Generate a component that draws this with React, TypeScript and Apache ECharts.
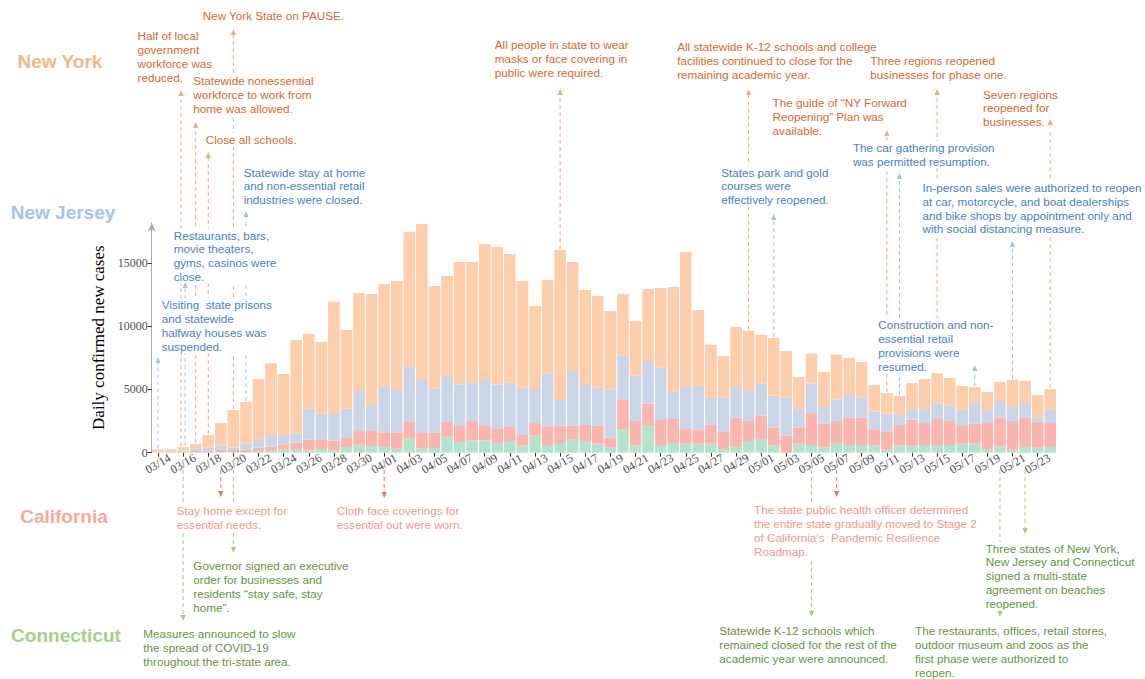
import React, { useEffect, useRef } from "react";
import * as echarts from "echarts";

const dates = [
  "03/14","03/15","03/16","03/17","03/18","03/19","03/20","03/21","03/22","03/23","03/24","03/25","03/26","03/27","03/28","03/29","03/30","03/31",
  "04/01","04/02","04/03","04/04","04/05","04/06","04/07","04/08","04/09","04/10","04/11","04/12","04/13","04/14","04/15","04/16","04/17","04/18","04/19","04/20",
  "04/21","04/22","04/23","04/24","04/25","04/26","04/27","04/28","04/29","04/30",
  "05/01","05/02","05/03","05/04","05/05","05/06","05/07","05/08","05/09","05/10","05/11","05/12","05/13","05/14","05/15","05/16","05/17","05/18","05/19","05/20",
  "05/21","05/22","05/23","05/24",
];

const connecticut = [
  0, 10, 10, 20, 20, 30, 40, 50,
  130, 145, 265, 280, 185, 300, 190, 450, 630, 525, 450, 315,
  1110, 345, 370, 1265, 845, 975, 975, 765, 925, 555, 1345, 605,
  765, 1080, 925, 710, 395, 1820, 555, 2135, 605, 765, 710, 710,
  710, 290, 450, 925, 1080, 555, 0, 710, 605, 395, 765, 605,
  605, 555, 235, 555, 555, 605, 605, 605, 710, 710, 290, 500,
  235, 450, 395, 450,
];

const california = [
  40, 40, 50, 110, 140, 180, 170, 210,
  280, 330, 405, 510, 845, 755, 770, 710, 1080, 1190, 1160, 1295,
  1315, 1210, 1240, 1160, 1265, 1530, 1135, 1160, 1105, 845, 1000, 1425,
  1370, 1055, 1265, 1425, 790, 2345, 1950, 1740, 1980, 1900, 1160, 1120,
  1480, 1345, 2320, 1580, 1845, 1425, 1345, 1265, 2530, 1900, 1740, 2160,
  2160, 1250, 1455, 1635, 2055, 1740, 2055, 1900, 1475, 1580, 2055, 2240,
  2270, 2295, 2055, 1895,
];

const newJersey = [
  30, 40, 100, 180, 240, 340, 190, 450,
  590, 925, 730, 730, 2440, 2045, 2180, 2320, 3245, 2055, 3610, 3350,
  4375, 4195, 3455, 3560, 3295, 3035, 3640, 3480, 3510, 3745, 2690, 4220,
  2110, 4325, 3165, 3005, 3800, 3510, 3585, 3375, 4140, 2160, 3325, 3460,
  2200, 2705, 2425, 2375, 2530, 2530, 3005, 1475, 2320, 1320, 1690, 1795,
  1610, 1450, 1395, 790, 765, 1105, 1215, 1215, 1215, 1635, 950, 1345,
  1110, 1185, 290, 1055,
];

const newYork = [
  190, 180, 280, 380, 1000, 1800, 2970, 3300,
  4830, 5680, 4825, 7390, 5930, 5655, 8790, 6220, 7675, 8780, 8120, 8620,
  10680, 12340, 8120, 7990, 9680, 9545, 10760, 10865, 10180, 8440, 6565, 7410,
  11785, 8625, 7515, 7250, 6220, 4880, 4325, 5695, 6305, 8280, 10680, 5995,
  4155, 3305, 4745, 4775, 3850, 4560, 3690, 2530, 2375, 2770, 3560, 2925,
  2795, 2110, 1635, 1505, 2135, 2375, 2745, 2190, 1870, 1265, 1505, 1530,
  2160, 1740, 1820, 1635,
];

const yTicks = [0, 5000, 10000, 15000];

const stateNames = ["New York", "New Jersey", "California", "Connecticut"];

type Ann = { state: string; date: string; text: string; tx: number; ty: number; tip: number; dx?: number };

const annotations: Ann[] = [
  { state: "New York", date: "03/16", dx: -2, text: "Half of local\ngovernment\nworkforce was\nreduced.", tx: 137.5, ty: 36, tip: 90 },
  { state: "New York", date: "03/17", text: "Statewide nonessential\nworkforce to work from\nhome was allowed.", tx: 193.3, ty: 81, tip: 122 },
  { state: "New York", date: "03/18", text: "Close all schools.", tx: 205.7, ty: 140, tip: 152 },
  { state: "New York", date: "03/20", text: "New York State on PAUSE.", tx: 202.7, ty: 16, tip: 29 },
  { state: "New York", date: "04/15", text: "All people in state to wear\nmasks or face covering in\npublic were required.", tx: 494.8, ty: 45, tip: 89 },
  { state: "New York", date: "04/30", text: "All statewide K-12 schools and college\nfacilities continued to close for the\nremaining academic year.", tx: 677.2, ty: 47, tip: 89 },
  { state: "New York", date: "05/11", text: "The guide of \u201cNY Forward\nReopening\u201d Plan was\navailable.", tx: 772.6, ty: 102.7, tip: 130 },
  { state: "New York", date: "05/15", text: "Three regions reopened\nbusinesses for phase one.", tx: 870.3, ty: 61, tip: 89 },
  { state: "New York", date: "05/24", text: "Seven regions\nreopened for\nbusinesses.", tx: 983, ty: 94.3, tip: 119 },
  { state: "New Jersey", date: "03/14", text: "Visiting  state prisons\nand statewide\nhalfway houses was\nsuspended.", tx: 161.7, ty: 305, tip: 357 },
  { state: "New Jersey", date: "03/16", dx: 2, text: "Restaurants, bars,\nmovie theaters,\ngyms, casinos were\nclose.", tx: 173.7, ty: 235.3, tip: 282 },
  { state: "New Jersey", date: "03/21", text: "Statewide stay at home\nand non-essential retail\nindustries were closed.", tx: 243.7, ty: 172.3, tip: 211 },
  { state: "New Jersey", date: "05/02", text: "States park and gold\ncourses were\neffectively reopened.", tx: 721.2, ty: 172.3, tip: 214 },
  { state: "New Jersey", date: "05/12", text: "The car gathering provision\nwas permitted resumption.", tx: 852.9, ty: 147.7, tip: 173 },
  { state: "New Jersey", date: "05/18", text: "Construction and non-\nessential retail\nprovisions were\nresumed.", tx: 878.3, ty: 325, tip: 365 },
  { state: "New Jersey", date: "05/21", text: "In-person sales were authorized to reopen\nat car, motorcycle, and boat dealerships\nand bike shops by appointment only and\nwith social distancing measure.", tx: 922.5, ty: 187.7, tip: 241 },
  { state: "California", date: "03/19", text: "Stay home except for\nessential needs.", tx: 176.7, ty: 511, tip: 497 },
  { state: "California", date: "04/01", text: "Cloth face coverings for\nessential out were worn.", tx: 336.7, ty: 511, tip: 498 },
  { state: "California", date: "05/07", text: "The state public health officer determined\nthe entire state gradually moved to Stage 2\nof California\u2019s  Pandemic Resilience\nRoadmap.", tx: 754, ty: 510, tip: 497 },
  { state: "Connecticut", date: "03/16", text: "Measures announced to slow\nthe spread of COVID-19\nthroughout the tri-state area.", tx: 143.3, ty: 634, tip: 621 },
  { state: "Connecticut", date: "03/20", text: "Governor signed an executive\norder for businesses and\nresidents \u201cstay safe, stay\nhome\u201d.", tx: 193.3, ty: 566, tip: 553 },
  { state: "Connecticut", date: "05/05", text: "Statewide K-12 schools which\nremained closed for the rest of the\nacademic year were announced.", tx: 719.3, ty: 631, tip: 617 },
  { state: "Connecticut", date: "05/20", text: "The restaurants, offices, retail stores,\noutdoor museum and zoos as the\nfirst phase were authorized to\nreopen.", tx: 915, ty: 631, tip: 617 },
  { state: "Connecticut", date: "05/22", text: "Three states of New York,\nNew Jersey and Connecticut\nsigned a multi-state\nagreement on beaches\nreopened.", tx: 985.7, ty: 548.3, tip: 534 },
];

const barColors: Record<string, string> = {
  "New York": "#FDCDAC",
  "New Jersey": "#CBD5E8",
  "California": "#FBB4AE",
  "Connecticut": "#B3E2CD",
};
const labelColors: Record<string, string> = {
  "New York": "#F8B488",
  "New Jersey": "#A6C4E6",
  "California": "#F9A89C",
  "Connecticut": "#A6CF8A",
};
const textColors: Record<string, string> = {
  "New York": "#D6692E",
  "New Jersey": "#4682C3",
  "California": "#F8968C",
  "Connecticut": "#5F963C",
};
const lineColors: Record<string, string> = {
  "New York": "#F4A67E",
  "New Jersey": "#9EC3E8",
  "California": "#F27064",
  "Connecticut": "#9FD080",
};
const stateLabelPos: Record<string, [number, number]> = {
  "New York": [60, 61],
  "New Jersey": [63, 212],
  "California": [64, 516],
  "Connecticut": [66, 635],
};

const SANS = '"Liberation Sans", Arial, sans-serif';
const SERIF = '"Liberation Serif", "Times New Roman", serif';

export default function App() {
  const ref = useRef<HTMLDivElement>(null);
  useEffect(() => {
    if (!ref.current) return;
    const chart = echarts.init(ref.current, null, { renderer: "svg" });
    const seriesData: Record<string, number[]> = {
      "Connecticut": connecticut,
      "California": california,
      "New Jersey": newJersey,
      "New York": newYork,
    };
    const order = ["Connecticut", "California", "New Jersey", "New York"];
    chart.setOption({
      animation: false,
      grid: { left: 151.7, right: 88.5, top: 222.6, bottom: 226.3 },
      xAxis: {
        type: "category",
        data: dates,
        axisLine: { show: false },
        axisTick: { show: true, interval: 1, alignWithLabel: true, length: 4, lineStyle: { color: "#333" } },
        axisLabel: {
          interval: 1, rotate: 30, fontFamily: SERIF, fontSize: 12, color: "#4d4d4d",
          margin: 11, align: "center", verticalAlign: "middle",
        },
        splitLine: { show: false },
      },
      yAxis: {
        type: "value",
        min: 0,
        max: 18200,
        name: "Daily confirmed new cases",
        nameLocation: "middle",
        nameGap: 34,
        nameTextStyle: { fontFamily: SERIF, fontSize: 17, color: "#000" },
        axisLine: { show: true, symbol: ["none", "arrow"], symbolSize: [6, 9], lineStyle: { color: "#aaa" } },
        axisTick: { show: true, customValues: yTicks, length: 4, lineStyle: { color: "#333" } },
        axisLabel: {
          customValues: yTicks, fontFamily: SERIF, fontSize: 12, color: "#4d4d4d", margin: 4,
          formatter: (v: number) => String(v),
        },
        splitLine: { show: false },
      },
      series: order.map((name) => ({
        name,
        type: "bar",
        stack: "total",
        data: seriesData[name],
        barCategoryGap: "8%",
        itemStyle: { color: barColors[name] },
      })),
    });

    const graphics: any[] = [];
    stateNames.forEach((s) => {
      const [x, y] = stateLabelPos[s];
      graphics.push({
        type: "text", x, y, z: 20,
        style: { text: s, fill: labelColors[s], font: `bold 19px ${SANS}`, textAlign: "center", textVerticalAlign: "middle" },
      });
    });
    annotations.forEach((a) => {
      const idx = dates.indexOf(a.date);
      const total = newYork[idx] + newJersey[idx] + california[idx] + connecticut[idx];
      const p = chart.convertToPixel({ xAxisIndex: 0, yAxisIndex: 0 }, [idx, total]) as number[];
      const x = p[0] + (a.dx || 0);
      const up = a.state === "New York" || a.state === "New Jersey";
      const lc = lineColors[a.state];
      const y1 = up ? p[1] - 1 : 470;
      const y2 = up ? a.tip + 5 : a.tip - 5;
      graphics.push({
        type: "line", z: 5,
        shape: { x1: x, y1, x2: x, y2 },
        style: { stroke: lc, lineWidth: 1, lineDash: [4, 3] },
      });
      const d = up ? 6 : -6;
      graphics.push({
        type: "polygon", z: 30,
        shape: { points: [[x, a.tip], [x - 2.6, a.tip + d], [x + 2.6, a.tip + d]] },
        style: { fill: lc },
      });
      graphics.push({
        type: "text", x: a.tx, y: a.ty - 7, z: 10,
        style: {
          text: a.text, fill: textColors[a.state], font: `11.7px ${SANS}`, lineHeight: 13.8,
          textVerticalAlign: "top", backgroundColor: "#fff",
        },
      });
    });
    chart.setOption({ graphic: graphics });
    return () => chart.dispose();
  }, []);
  return <div ref={ref} style={{ position: "fixed", left: 0, top: 0, width: 1145, height: 679, background: "#fff" }} />;
}
